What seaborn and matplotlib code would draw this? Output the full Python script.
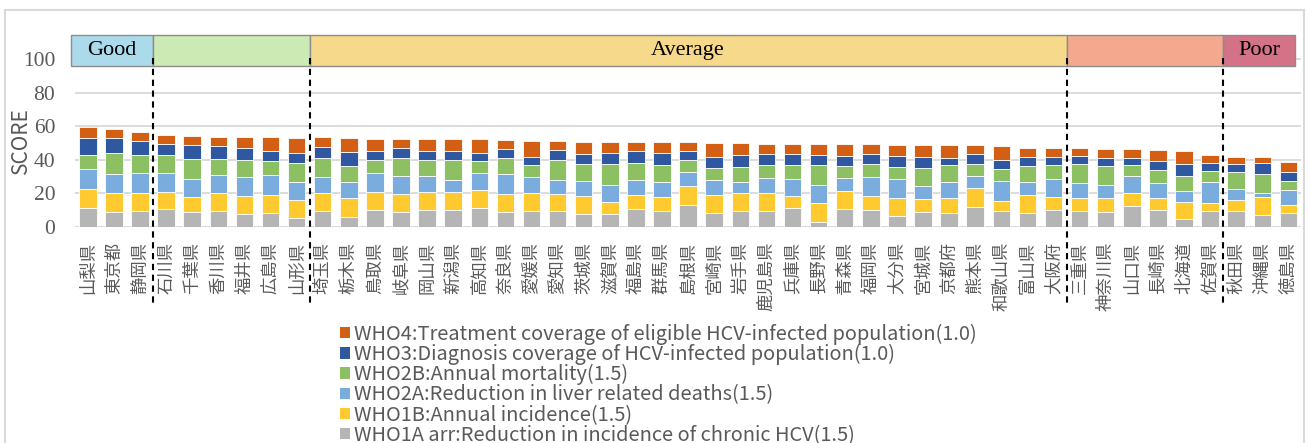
import numpy as np
import pandas as pd
import matplotlib
matplotlib.use("Agg")
import matplotlib.pyplot as plt
import seaborn as sns
from matplotlib.patches import Patch, Rectangle

# prefectures in ranking order
prefs = ["山梨県", "東京都", "静岡県", "石川県", "千葉県", "香川県", "福井県", "広島県", "山形県",
         "埼玉県", "栃木県", "鳥取県", "岐阜県", "岡山県", "新潟県", "高知県", "奈良県", "愛媛県",
         "愛知県", "茨城県", "滋賀県", "福島県", "群馬県", "島根県", "宮崎県", "岩手県", "鹿児島県",
         "兵庫県", "長野県", "青森県", "福岡県", "大分県", "宮城県", "京都府", "熊本県", "和歌山県",
         "富山県", "大阪府", "三重県", "神奈川県", "山口県", "長崎県", "北海道", "佐賀県",
         "秋田県", "沖縄県", "徳島県"]

# score components (bottom -> top)
who1a = [11.4, 9.0, 9.4, 10.4, 9.0, 9.4, 7.6, 8.0, 5.4, 9.4, 6.0, 10.0, 8.6, 10.0, 10.0, 11.2,
         9.0, 9.4, 9.4, 7.6, 7.6, 10.6, 9.4, 13.2, 8.2, 9.6, 9.4, 11.2, 3.0, 10.6, 10.0, 6.4,
         8.6, 8.0, 12.0, 9.4, 8.2, 10.0, 9.4, 8.8, 12.4, 10.0, 4.6, 9.6, 9.4, 6.8, 8.2]
who1b = [11.0, 11.2, 10.8, 10.6, 9.0, 10.8, 11.0, 11.0, 10.6, 10.8, 11.0, 10.8, 10.8, 10.8,
         11.0, 10.8, 10.8, 10.8, 10.0, 11.0, 7.0, 8.2, 8.2, 11.0, 10.8, 10.8, 10.8, 7.0, 11.0,
         11.0, 8.4, 10.8, 8.2, 9.0, 11.0, 6.2, 11.0, 7.8, 7.6, 8.2, 7.6, 7.0, 10.0, 4.4, 6.6,
         11.0, 4.6]
who2a = [12.2, 11.0, 11.8, 11.0, 10.4, 10.8, 11.0, 11.6, 10.6, 9.2, 9.4, 11.0, 10.6, 9.6, 6.8,
         9.8, 11.4, 9.6, 8.2, 8.6, 10.4, 8.8, 9.2, 8.4, 8.6, 6.0, 9.0, 10.2, 11.0, 7.6, 11.4,
         11.0, 7.2, 9.4, 7.4, 11.6, 7.2, 10.8, 9.0, 7.6, 10.0, 9.2, 6.8, 12.8, 6.8, 2.6, 9.2]
who2b = [8.0, 13.0, 11.0, 10.6, 12.0, 9.4, 10.2, 8.8, 11.4, 11.6, 10.0, 8.0, 11.0, 9.4, 12.0,
         7.2, 9.8, 7.2, 12.2, 10.0, 12.6, 10.4, 10.2, 7.0, 7.6, 9.0, 7.4, 8.6, 11.8, 7.2, 7.8,
         7.6, 11.2, 10.6, 7.0, 7.2, 10.0, 8.4, 11.4, 11.4, 7.0, 7.6, 9.0, 6.6, 9.8, 11.2, 5.4]
who3 = [10.4, 8.8, 8.0, 6.6, 8.4, 7.8, 7.0, 5.8, 6.2, 6.8, 8.0, 5.6, 6.2, 5.4, 5.6, 4.8, 5.6,
        4.8, 6.2, 6.4, 6.6, 7.2, 7.2, 5.4, 6.6, 7.6, 7.0, 6.6, 6.2, 6.0, 5.6, 6.6, 6.2, 4.2,
        5.8, 5.6, 5.4, 4.4, 4.6, 5.2, 3.8, 5.6, 6.8, 4.8, 4.6, 6.4, 5.0]
who4 = [6.6, 5.4, 5.8, 5.4, 5.2, 5.4, 6.6, 8.2, 9.0, 5.6, 8.4, 7.0, 5.2, 7.2, 7.0, 8.4, 5.2,
        9.2, 5.0, 7.2, 6.6, 5.6, 6.2, 5.4, 8.4, 7.0, 6.0, 6.0, 6.4, 6.8, 6.0, 6.4, 7.2, 7.4,
        5.4, 8.2, 5.4, 5.8, 5.0, 5.2, 5.4, 6.4, 7.8, 4.4, 4.4, 3.6, 6.2]

labels = ["WHO1A arr:Reduction in incidence of chronic HCV(1.5)",
          "WHO1B:Annual incidence(1.5)",
          "WHO2A:Reduction in liver related deaths(1.5)",
          "WHO2B:Annual mortality(1.5)",
          "WHO3:Diagnosis coverage of HCV-infected population(1.0)",
          "WHO4:Treatment coverage of eligible HCV-infected population(1.0)"]
colors = ["#B5B5B5", "#FFC930", "#7AADDE", "#8DBF63", "#2F58A0", "#D25F13"]

# rank groups
group_names = ["Good", "", "Average", "", "Poor"]
group_sizes = [3, 6, 29, 6, 3]
group_colors = ["#ABDBEA", "#CCEAB3", "#F6D98A", "#F4A98F", "#D47287"]

df = pd.DataFrame({"pref": prefs, "a": who1a, "b": who1b, "c": who2a,
                   "d": who2b, "e": who3, "f": who4})

sns.set_style("white")
plt.rcParams["font.family"] = ["Noto Sans CJK JP", "DejaVu Sans"]
grey = "#595959"

fig = plt.figure(figsize=(13.09, 4.43), dpi=100)
ax = fig.add_axes([0.0571, 0.4883, 0.9371, 0.4347])

bottom = np.zeros(len(df))
for col, c in zip(["a", "b", "c", "d", "e", "f"], colors):
    sns.barplot(data=df, x="pref", y=col, color=c, bottom=bottom, width=0.67,
                edgecolor="white", linewidth=0.6, saturation=1, ax=ax)
    bottom = bottom + df[col].values

ax.set_xlim(-0.5, len(prefs) - 0.5)
ax.set_ylim(0, 115)
ax.set_yticks([0, 20, 40, 60, 80, 100])
ax.yaxis.grid(True, color="#D9D9D9", linewidth=1.3)
ax.set_axisbelow(True)
for s in ax.spines.values():
    s.set_visible(False)
ax.axhline(0, color="#D9D9D9", linewidth=1.5, zorder=0.5)

ax.set_xticks(range(len(prefs)))
ax.set_xticklabels(prefs, rotation=90, va="top", ha="center", fontsize=12.5, color=grey)
ax.tick_params(axis="x", length=0, pad=11)
ax.tick_params(axis="y", length=0, pad=14, labelcolor=grey)
for t in ax.get_yticklabels():
    t.set_fontfamily("Liberation Serif")
    t.set_fontsize(15.5)

ax.set_xlabel("")
ax.set_ylabel("SCORE", fontsize=15, color=grey)
ax.yaxis.set_label_coords(-0.0345, 0.445)

# group bands on top + dashed separators
edges = np.concatenate([[-0.65], np.cumsum(group_sizes) - 0.5])
edges[-1] = 46.25
for i in range(len(group_sizes)):
    ax.add_patch(Rectangle((edges[i], 96), edges[i + 1] - edges[i], 18.5,
                           facecolor=group_colors[i], edgecolor="#8C8C8C",
                           linewidth=1, zorder=3, clip_on=False))
    if group_names[i]:
        ax.text((edges[i] + edges[i + 1]) / 2, 105.2, group_names[i], ha="center",
                va="center", fontsize=16, family="Liberation Serif", color="black", zorder=4)
for x in edges[1:-1]:
    ax.plot([x, x], [101, -46], color="black", linewidth=1.5, linestyle=(0, (3, 2.2)),
            clip_on=False, zorder=5)

handles = [Patch(facecolor=c, edgecolor="none") for c in colors][::-1]
fig.legend(handles, labels[::-1], loc="upper left", bbox_to_anchor=(0.2595, 0.27),
           frameon=False, fontsize=14.4, handlelength=0.5, handleheight=0.5,
           handletextpad=0.2, labelspacing=-0.04, borderpad=0, borderaxespad=0,
           labelcolor=grey)

fig.patches.append(Rectangle((5 / 1309, -0.1), 1299 / 1309, 1.1 - 10 / 443,
                             transform=fig.transFigure, fill=False,
                             edgecolor="#D9D9D9", linewidth=1.5))

fig.savefig("out.png", dpi=100)
